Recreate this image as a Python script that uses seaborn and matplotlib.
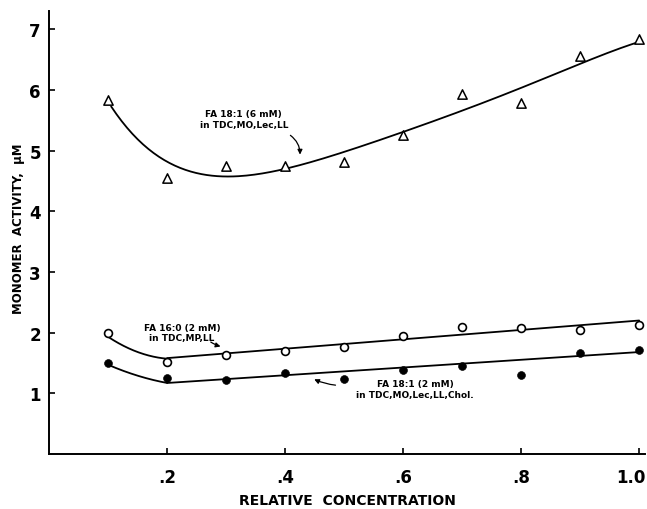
import numpy as np
import pandas as pd
import seaborn as sns
import matplotlib.pyplot as plt
from matplotlib.transforms import offset_copy

# measured points
conc = [0.1, 0.2, 0.3, 0.4, 0.5, 0.6, 0.7, 0.8, 0.9, 1.0]
fa181_6mm = [5.84, 4.55, 4.74, 4.75, 4.82, 5.26, 5.94, 5.79, 6.57, 6.85]
fa160_2mm = [2.00, 1.52, 1.63, 1.69, 1.77, 1.95, 2.10, 2.08, 2.05, 2.13]
fa181_2mm = [1.50, 1.25, 1.22, 1.33, 1.24, 1.38, 1.45, 1.30, 1.67, 1.72]

# hand-drawn fit curves (knots, smoothed below)
fit_tri_x = [0.105, 0.15, 0.2, 0.25, 0.3, 0.35, 0.4, 0.5, 0.6, 0.7, 0.8, 0.9, 1.0]
fit_tri_y = [5.75, 5.16, 4.80, 4.65, 4.59, 4.62, 4.70, 4.95, 5.31, 5.68, 6.04, 6.42, 6.80]
fit_open_dip_x = [0.1, 0.15, 0.2]
fit_open_dip_y = [1.93, 1.68, 1.57]
fit_open_line_x = [0.2, 1.0]
fit_open_line_y = [1.58, 2.20]
fit_fill_dip_x = [0.1, 0.15, 0.2]
fit_fill_dip_y = [1.47, 1.29, 1.17]
fit_fill_line_x = [0.2, 1.0]
fit_fill_line_y = [1.17, 1.68]

sns.set_style("ticks")
plt.rcParams['font.family'] = ['DejaVu Sans']
plt.rcParams['text.color'] = 'black'
plt.rcParams['axes.labelcolor'] = 'black'
plt.rcParams['xtick.color'] = 'black'
plt.rcParams['ytick.color'] = 'black'
plt.rcParams['axes.edgecolor'] = 'black'

fig = plt.figure(figsize=(6.47, 5.10), dpi=100)
ax = fig.add_axes([0.076, 0.108, 0.921, 0.868])


def smooth(xk, yk, deg):
    c = np.polyfit(xk, yk, deg)
    xs = np.linspace(xk[0], xk[-1], 200)
    return xs, np.polyval(c, xs)


curves = [smooth(fit_tri_x, fit_tri_y, 5),
          smooth(fit_open_dip_x, fit_open_dip_y, 2),
          (fit_open_line_x, fit_open_line_y),
          smooth(fit_fill_dip_x, fit_fill_dip_y, 2),
          (fit_fill_line_x, fit_fill_line_y)]
for cx, cy in curves:
    sns.lineplot(x=cx, y=cy, ax=ax, color='black', lw=1.3, zorder=2,
                 estimator=None, sort=False)

df = pd.DataFrame({'conc': conc, 'tri': fa181_6mm, 'open': fa160_2mm, 'fill': fa181_2mm})
sns.scatterplot(data=df, x='conc', y='tri', ax=ax, marker='^', s=45,
                facecolor='white', edgecolor='black', linewidth=1.1, zorder=3)
sns.scatterplot(data=df, x='conc', y='open', ax=ax, marker='o', s=32,
                facecolor='white', edgecolor='black', linewidth=1.2, zorder=3)
sns.scatterplot(data=df, x='conc', y='fill', ax=ax, marker='o', s=32,
                color='black', edgecolor='black', zorder=3)

ax.set_xlim(0, 1.01)
ax.set_ylim(0, 7.3)
ax.set_xticks([0.2, 0.4, 0.6, 0.8, 1.0])
ax.set_xticklabels(['.2', '.4', '.6', '.8', '1.0'])
ax.set_yticks([1, 2, 3, 4, 5, 6, 7])
ax.tick_params(direction='in', length=4, width=1.2, labelsize=12)
ax.tick_params(axis='x', pad=10)
ax.tick_params(axis='y', pad=6)
for lbl in ax.get_xticklabels() + ax.get_yticklabels():
    lbl.set_fontweight('bold')
last = ax.get_xticklabels()[-1]
last.set_horizontalalignment('right')
last.set_transform(offset_copy(last.get_transform(), fig=fig, x=6, y=0, units='dots'))

ax.set_xlabel('RELATIVE  CONCENTRATION', fontsize=10, fontweight='bold')
ax.xaxis.set_label_coords(0.5, -0.105)
ax.xaxis.label.set_verticalalignment('center')
ax.set_ylabel('MONOMER  ACTIVITY,  \u03bcM', fontsize=8.5, fontweight='bold')
ax.yaxis.set_label_coords(-0.04, 0.51)
sns.despine(ax=ax)
for sp in ax.spines.values():
    sp.set_linewidth(1.4)

# annotations
ann = dict(fontsize=6.5, fontweight='bold', ha='center', va='center')
ax.text(0.33, 5.52, 'FA 18:1 (6 mM)\nin TDC,MO,Lec,LL', linespacing=1.2, **ann)
ax.annotate('', xy=(0.425, 4.89), xytext=(0.405, 5.28),
            arrowprops=dict(arrowstyle='-|>', color='black', lw=0.9,
                            connectionstyle='arc3,rad=-0.3', mutation_scale=7))
ax.text(0.225, 2.0, 'FA 16:0 (2 mM)\nin TDC,MP,LL', linespacing=1.2, **ann)
ax.annotate('', xy=(0.295, 1.76), xytext=(0.27, 1.87),
            arrowprops=dict(arrowstyle='-|>', color='black', lw=0.9,
                            connectionstyle='arc3,rad=0.1', mutation_scale=7))
ax.text(0.62, 1.07, 'FA 18:1 (2 mM)\nin TDC,MO,Lec,LL,Chol.', linespacing=1.2, **ann)
ax.annotate('', xy=(0.445, 1.25), xytext=(0.49, 1.13),
            arrowprops=dict(arrowstyle='-|>', color='black', lw=0.9,
                            connectionstyle='arc3,rad=-0.1', mutation_scale=7))

fig.savefig('out.png', dpi=100)
